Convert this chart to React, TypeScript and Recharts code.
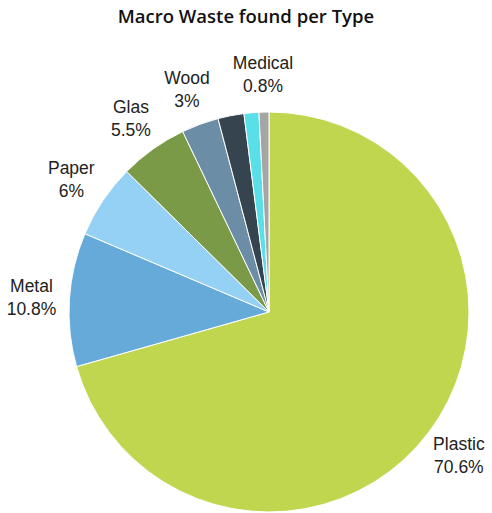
import React from "react";
import { PieChart, Pie, Cell } from "recharts";

const categories = ["Plastic", "Metal", "Paper", "Glas", "Wood", "Other", "Textile", "Medical"];
const values = [70.6, 10.8, 6, 5.5, 3, 2.1, 1.2, 0.8];
const labelled = [true, true, true, true, true, false, false, true];
const colors = ["#c1d64f", "#65aad9", "#94d1f5", "#7b9a47", "#6b8da6", "#35444f", "#58dfe8", "#a5a5a5"];

const data = categories.map((name, i) => ({ name, value: values[i] }));

const RAD = Math.PI / 180;

const renderLabel = (props: any) => {
  const { cx, cy, midAngle, outerRadius, index } = props;
  if (!labelled[index]) return null;
  const r = outerRadius + 38;
  const x = cx + r * Math.cos(-midAngle * RAD);
  const y = cy + r * Math.sin(-midAngle * RAD);
  return (
    <text
      x={x}
      y={y}
      textAnchor="middle"
      fill="#222"
      fontFamily="'Liberation Sans', Arial, sans-serif"
      fontSize={17.5}
    >
      <tspan x={x} dy={-5}>{categories[index]}</tspan>
      <tspan x={x} dy={23}>{values[index] + "%"}</tspan>
    </text>
  );
};

export default function App() {
  return (
    <div style={{ position: "absolute", left: 0, top: 0, width: 492, height: 513, background: "#fff" }}>
      <div
        style={{
          position: "absolute",
          left: 0,
          top: 3,
          width: 492,
          textAlign: "center",
          fontFamily: "'Open Sans', sans-serif",
          fontWeight: 600,
          fontSize: 18.5,
          color: "#111",
        }}
      >
        Macro Waste found per Type
      </div>
      <PieChart width={492} height={513}>
        <Pie
          data={data}
          dataKey="value"
          nameKey="name"
          cx={264}
          cy={307}
          outerRadius={200}
          startAngle={90}
          endAngle={-270}
          stroke="#fff"
          strokeWidth={1}
          label={renderLabel}
          labelLine={false}
          isAnimationActive={false}
        >
          {data.map((d, i) => (
            <Cell key={d.name} fill={colors[i]} />
          ))}
        </Pie>
      </PieChart>
    </div>
  );
}
